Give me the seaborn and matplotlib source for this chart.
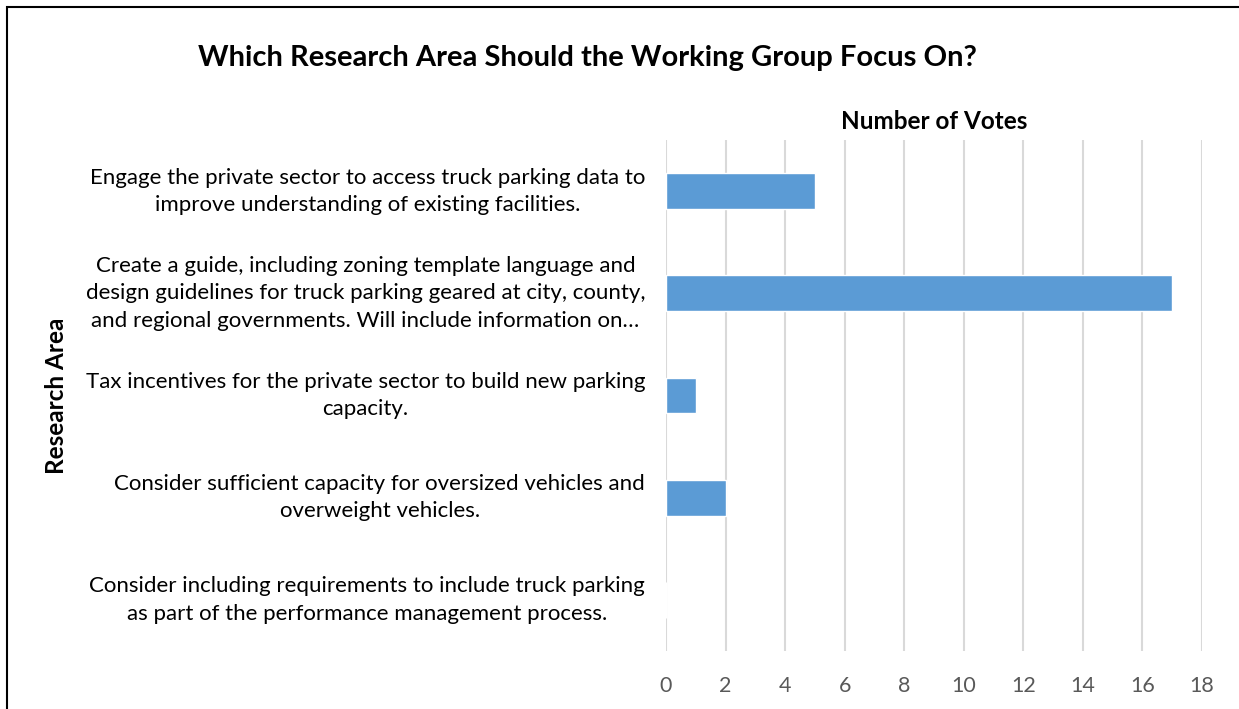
import matplotlib.pyplot as plt
import seaborn as sns
import pandas as pd
from matplotlib.patches import Rectangle

areas = [
    "Engage the private sector to access truck parking data to\nimprove understanding of existing facilities.",
    "Create a guide, including zoning template language and\ndesign guidelines for truck parking geared at city, county,\nand regional governments. Will include information on…",
    "Tax incentives for the private sector to build new parking\ncapacity.",
    "Consider sufficient capacity for oversized vehicles and\noverweight vehicles.",
    "Consider including requirements to include truck parking\nas part of the performance management process.",
]
votes = [5, 17, 1, 2, 0]
x_ticks = list(range(0, 19, 2))

df = pd.DataFrame({"area": areas, "votes": votes})

sns.set_theme(style="white")
plt.rcParams['font.family'] = ['Lato', 'DejaVu Sans']
plt.rcParams['text.color'] = 'black'
plt.rcParams['axes.labelcolor'] = 'black'

fig = plt.figure(figsize=(12.39, 7.09), dpi=100)
ax = fig.add_axes([0.5375, 0.0818, 0.4326, 0.7207])

sns.barplot(data=df, y="area", x="votes", orient="h", color="#5B9BD5",
            width=0.35, saturation=1, ax=ax)

ax.set_xlim(0, 18)
ax.set_xticks(x_ticks)
ax.set_ylim(4.5, -0.5)
ax.grid(axis="x", color="#D9D9D9", linewidth=1.5)
ax.set_axisbelow(True)
for s in ax.spines.values():
    s.set_visible(False)

ax.tick_params(axis="x", length=0, pad=18, labelsize=15.5, labelcolor="#595959")
ax.tick_params(axis="y", length=0, pad=15, labelsize=16, labelcolor="#000000")
for lab in ax.get_yticklabels():
    lab.set_multialignment("center")
    lab.set_linespacing(1.45)
    lab.set_verticalalignment("center")

ax.set_xlabel("")
ax.set_ylabel("Research Area", fontsize=17.5, fontweight="bold")
ax.yaxis.set_label_coords(-1.116, 0.5)
ax.set_title("Number of Votes", fontsize=17.5, fontweight="bold", pad=8, color="black")

fig.text(0.474, 0.918, "Which Research Area Should the Working Group Focus On?",
         ha="center", va="center", fontsize=21, fontweight="bold", color="black")

# frame around the chart area (extends past right and bottom edges)
fig.patches.append(Rectangle((0.0056, -0.1), 1.1, 1.09, transform=fig.transFigure,
                             fill=False, edgecolor="black", linewidth=1.5))

fig.savefig("out.png", dpi=100)
